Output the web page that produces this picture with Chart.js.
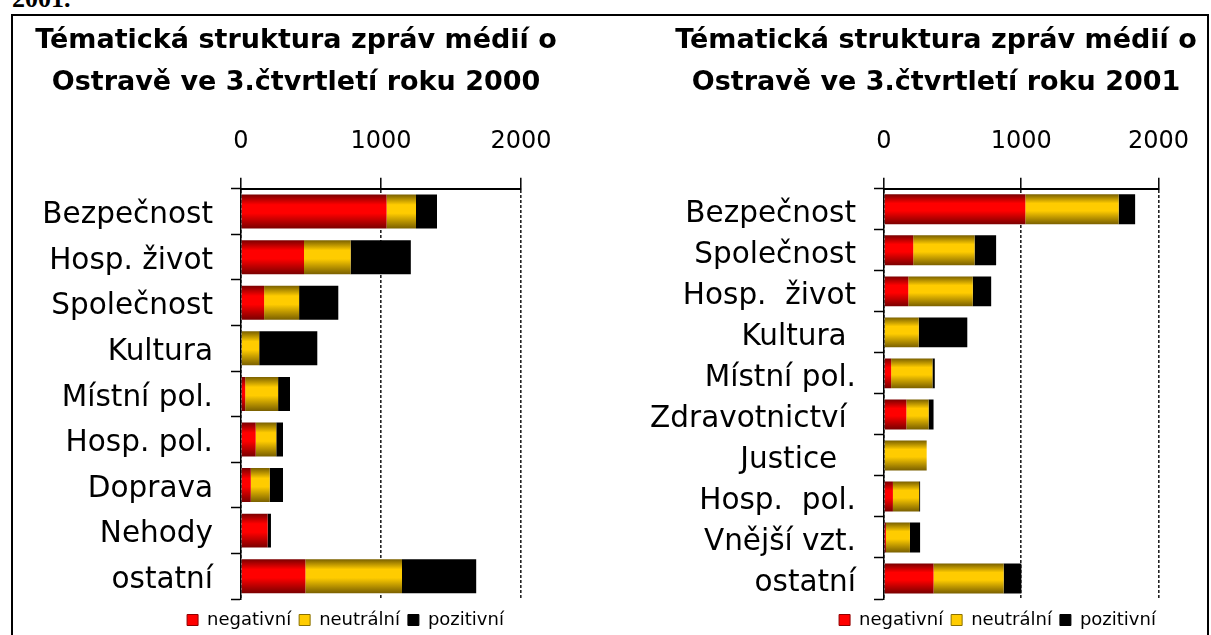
<!DOCTYPE html>
<html><head><meta charset="utf-8">
<script src="https://cdn.jsdelivr.net/npm/chart.js@4"></script>
<style>
html,body{margin:0;padding:0;background:#fff;width:1211px;height:635px;overflow:hidden;}
#frame{position:absolute;left:11px;top:14px;width:1194px;height:700px;border:2px solid #000;}
#cap{position:absolute;left:12px;top:-14px;font:bold 26px/26px "Liberation Serif",serif;color:#000;}
canvas{position:absolute;top:0;}
#c1{left:0;} #c2{left:630px;}
</style></head><body>
<div id="frame"></div>
<div id="cap">2001.</div>
<canvas id="c1" width="600" height="635"></canvas>
<canvas id="c2" width="581" height="635"></canvas>
<script>
const seriesNames = ['negativní', 'neutrální', 'pozitivní'];
const xTickValues = [0, 1000, 2000];

const title2000 = ['Tématická struktura zpráv médií o', 'Ostravě ve 3.čtvrtletí roku 2000'];
const categories2000 = ['Bezpečnost', 'Hosp. život', 'Společnost', 'Kultura', 'Místní pol.', 'Hosp. pol.', 'Doprava', 'Nehody', 'ostatní'];
const negative2000 = [1040, 450, 165, 0, 30, 105, 70, 190, 460];
const neutral2000  = [210, 333, 250, 130, 235, 147, 135, 0, 690];
const positive2000 = [150, 430, 280, 415, 85, 48, 95, 24, 530];

const title2001 = ['Tématická struktura zpráv médií o', 'Ostravě ve 3.čtvrtletí roku 2001'];
const categories2001 = ['Bezpečnost', 'Společnost', 'Hosp.  život', 'Kultura ', 'Místní pol.', 'Zdravotnictví ', 'Justice  ', 'Hosp.  pol.', 'Vnější vzt.', 'ostatní'];
const negative2001 = [1030, 213, 177, 0, 52, 163, 0, 65, 14, 361];
const neutral2001  = [680, 447, 470, 253, 301, 162, 311, 191, 175, 511];
const positive2001 = [120, 157, 134, 354, 17, 36, 0, 7, 74, 129];

const palette = [
  {dark: '#7a0000', light: '#ff0000', legend: '#ff0000', edge: '#900000'},
  {dark: '#7a6000', light: '#ffcc00', legend: '#ffcc00', edge: '#8a7000'},
  {dark: '#000000', light: '#000000', legend: '#000000', edge: '#000000'}
];

function barFill(ctx, col, pct) {
  const chart = ctx.chart;
  const y = chart.scales && chart.scales.y;
  if (!y || !chart.chartArea || ctx.type !== 'data') return col.light;
  const n = chart.data.labels.length;
  const band = (y.bottom - y.top) / n;
  const c = y.getPixelForValue(ctx.dataIndex);
  const h = band * pct / 2;
  if (!isFinite(c) || !isFinite(h) || h <= 0) return col.light;
  const g = chart.ctx.createLinearGradient(0, c - h, 0, c + h);
  g.addColorStop(0, col.dark);
  g.addColorStop(0.3, col.light);
  g.addColorStop(0.55, col.light);
  g.addColorStop(1, col.dark);
  return g;
}

// moves the title and legend boxes horizontally (and the legend vertically) after layout
const boxPlace = {
  id: 'boxPlace',
  afterLayout(chart, args, opts) {
    const t = chart.titleBlock;
    if (t && opts.titleCenter != null) {
      t.left = opts.titleCenter - 300; t.right = opts.titleCenter + 300; t.width = 600;
    }
    const lg = chart.legend;
    if (lg && opts.legendCenter != null) {
      const dx = opts.legendCenter - (lg.left + lg.right) / 2;
      lg.left += dx; lg.right += dx;
    }
    if (lg && opts.legendTop != null) {
      const dy = opts.legendTop - lg.top;
      lg.top += dy; lg.bottom += dy;
    }
  }
};

function makeChart(id, cfg) {
  const pct = cfg.barPct;
  const values = [cfg.neg, cfg.neu, cfg.poz];
  const datasets = seriesNames.map((name, i) => ({
    label: name,
    data: values[i],
    backgroundColor: (ctx) => barFill(ctx, palette[i], pct),
    borderWidth: 0,
    barPercentage: pct,
    categoryPercentage: 1
  }));
  return new Chart(document.getElementById(id), {
    type: 'bar',
    data: {labels: cfg.labels, datasets},
    plugins: [boxPlace],
    options: {
      responsive: false,
      animation: false,
      indexAxis: 'y',
      layout: {padding: {left: 0, right: cfg.padRight, top: 0, bottom: 0}},
      scales: {
        x: {
          position: 'top',
          stacked: true,
          min: 0, max: 2000,
          afterBuildTicks: (s) => { s.ticks = xTickValues.map(v => ({value: v})); },
          ticks: {
            callback: (v) => String(v),
            color: '#000',
            padding: 22,
            maxRotation: 0,
            font: {family: 'DejaVu Sans', size: 24, lineHeight: 1.2}
          },
          grid: {
            color: '#222',
            lineWidth: 1.6,
            drawOnChartArea: true,
            drawTicks: true,
            tickLength: 11,
            tickColor: '#000',
            tickWidth: 1.5
          },
          border: {display: true, color: '#000', width: 2, dash: [3, 2]}
        },
        y: {
          stacked: true,
          afterFit: (s) => { s.width = cfg.yWidth; },
          ticks: {
            color: '#000',
            padding: 18,
            labelOffset: cfg.labelOffset,
            font: {family: 'DejaVu Sans', size: 29.5, lineHeight: 1.2}
          },
          grid: {
            drawOnChartArea: false,
            drawTicks: true,
            tickLength: 10,
            tickColor: '#000',
            tickWidth: 1.5
          },
          border: {display: true, color: '#000', width: 1.5}
        }
      },
      plugins: {
        title: {
          display: true,
          text: cfg.title,
          color: '#000',
          font: {family: 'DejaVu Sans', size: 27, weight: 'bold', lineHeight: 42 / 27},
          padding: {top: 20, bottom: 1}
        },
        legend: {
          position: 'bottom',
          labels: {
            color: '#000',
            boxWidth: 11,
            boxHeight: 11,
            padding: 8,
            font: {family: 'DejaVu Sans', size: 18},
            generateLabels: (chart) => seriesNames.map((name, i) => ({
              text: name,
              fillStyle: palette[i].legend,
              strokeStyle: palette[i].edge,
              lineWidth: 1,
              hidden: false,
              datasetIndex: i
            }))
          }
        },
        boxPlace: {titleCenter: cfg.titleCenter, legendCenter: cfg.legendCenter, legendTop: cfg.legendTop},
        tooltip: {enabled: false}
      }
    }
  });
}

makeChart('c1', {
  title: title2000, labels: categories2000,
  neg: negative2000, neu: neutral2000, poz: positive2000,
  barPct: 0.745, padRight: 79, yWidth: 241, labelOffset: 4,
  titleCenter: 296, legendCenter: 345.5, legendTop: 603
});
makeChart('c2', {
  title: title2001, labels: categories2001,
  neg: negative2001, neu: neutral2001, poz: positive2001,
  barPct: 0.73, padRight: 48, yWidth: 254, labelOffset: 5,
  titleCenter: 306, legendCenter: 367.5, legendTop: 603
});
</script>
</body></html>
